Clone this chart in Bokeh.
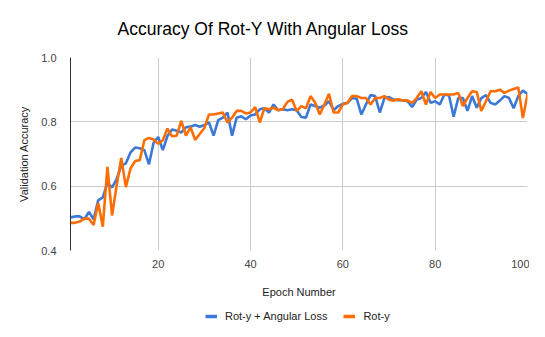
from bokeh.plotting import figure
from bokeh.layouts import column
from bokeh.models import Range1d, FixedTicker, NumeralTickFormatter, Legend, LegendItem, Title
from bokeh.embed import file_html
from bokeh.resources import INLINE

epochs = list(range(1, 101))
angular = [0.503, 0.506, 0.506, 0.497, 0.520, 0.497, 0.556, 0.565, 0.610, 0.596,
           0.622, 0.664, 0.671, 0.705, 0.720, 0.718, 0.712, 0.668, 0.735, 0.753,
           0.712, 0.756, 0.776, 0.772, 0.767, 0.783, 0.785, 0.790, 0.785, 0.790,
           0.798, 0.757, 0.805, 0.813, 0.829, 0.757, 0.813, 0.817, 0.808, 0.820,
           0.823, 0.839, 0.842, 0.829, 0.854, 0.836, 0.839, 0.836, 0.839, 0.836,
           0.815, 0.813, 0.854, 0.849, 0.844, 0.851, 0.864, 0.836, 0.849, 0.856,
           0.859, 0.874, 0.872, 0.823, 0.854, 0.883, 0.880, 0.829, 0.874, 0.877,
           0.869, 0.867, 0.867, 0.864, 0.846, 0.869, 0.874, 0.893, 0.859, 0.864,
           0.854, 0.885, 0.882, 0.816, 0.874, 0.874, 0.834, 0.880, 0.844, 0.874,
           0.883, 0.859, 0.854, 0.866, 0.880, 0.874, 0.842, 0.880, 0.897, 0.887]
roty = [0.486, 0.486, 0.490, 0.499, 0.499, 0.479, 0.548, 0.474, 0.660, 0.509,
        0.602, 0.688, 0.597, 0.655, 0.678, 0.681, 0.743, 0.750, 0.745, 0.732,
        0.743, 0.779, 0.755, 0.757, 0.803, 0.757, 0.783, 0.744, 0.762, 0.781,
        0.823, 0.823, 0.826, 0.829, 0.798, 0.813, 0.834, 0.834, 0.826, 0.829,
        0.846, 0.798, 0.842, 0.839, 0.844, 0.836, 0.840, 0.862, 0.869, 0.834,
        0.849, 0.842, 0.880, 0.859, 0.823, 0.854, 0.887, 0.829, 0.829, 0.854,
        0.859, 0.880, 0.880, 0.874, 0.874, 0.854, 0.874, 0.874, 0.880, 0.869,
        0.866, 0.870, 0.866, 0.867, 0.859, 0.874, 0.895, 0.854, 0.893, 0.874,
        0.885, 0.885, 0.885, 0.885, 0.890, 0.849, 0.874, 0.895, 0.893, 0.834,
        0.864, 0.895, 0.895, 0.900, 0.890, 0.897, 0.902, 0.907, 0.812, 0.885]
x_ticks = [20, 40, 60, 80, 100]
y_ticks = [0.4, 0.6, 0.8, 1.0]
series_names = ["Rot-y + Angular Loss", "Rot-y"]
colors = ["#3c78d8", "#ff6d01"]

FONT = "Liberation Sans"

p = figure(width=529, height=302, output_backend="svg", toolbar_location=None,
           x_range=Range1d(1, 100), y_range=Range1d(0.4, 1.0),
           min_border_left=70, min_border_right=2, min_border_top=56,
           min_border_bottom=52)
p.outline_line_color = None

t = Title(text="Accuracy Of  Rot-Y With Angular Loss", align="left", offset=47,
          text_font=FONT, text_font_size="17.5px", text_font_style="normal",
          text_color="#000000", vertical_align="middle", standoff=35)
p.add_layout(t, "above")

r1 = p.line(epochs, angular, line_color=colors[0], line_width=2.6)
r2 = p.line(epochs, roty, line_color=colors[1], line_width=2.6)

p.xaxis.ticker = FixedTicker(ticks=x_ticks)
p.yaxis.ticker = FixedTicker(ticks=y_ticks)
p.yaxis.formatter = NumeralTickFormatter(format="0.0")
for ax in (p.xaxis[0], p.yaxis[0]):
    ax.major_tick_line_color = None
    ax.minor_tick_line_color = None
    ax.major_tick_out = 0
    ax.major_tick_in = 0
    ax.major_label_text_font = FONT
    ax.major_label_text_font_size = "11px"
    ax.major_label_text_color = "#444444"
    ax.axis_label_text_font = FONT
    ax.axis_label_text_font_size = "11px"
    ax.axis_label_text_font_style = "normal"
    ax.axis_label_text_color = "#222222"
p.xaxis.axis_line_color = None
p.yaxis.axis_line_color = "#333333"
p.yaxis.axis_line_width = 1
p.xaxis.axis_label = "Epoch Number"
p.yaxis.axis_label = "Validation Accuracy"
p.xaxis.major_label_standoff = 9
p.xaxis.axis_label_standoff = 15
p.yaxis.major_label_standoff = 14
p.yaxis.axis_label_standoff = 8

p.xgrid.ticker = FixedTicker(ticks=x_ticks)
p.ygrid.ticker = FixedTicker(ticks=y_ticks)
p.xgrid.grid_line_color = "#cccccc"
p.ygrid.grid_line_color = "#cccccc"

# legend strip below the chart (dummy renderers sit outside the visible range)
lg = figure(width=529, height=28, output_backend="svg", toolbar_location=None,
            x_axis_type=None, y_axis_type=None,
            x_range=Range1d(0, 1), y_range=Range1d(0, 1),
            min_border_left=0, min_border_right=0, min_border_top=0,
            min_border_bottom=0)
lg.outline_line_color = None
lg.xgrid.visible = False
lg.ygrid.visible = False
d1 = lg.line([-10, -9], [-10, -9], line_color=colors[0], line_width=3.5)
d2 = lg.line([-10, -9], [-10, -9], line_color=colors[1], line_width=3.5)
legend = Legend(items=[LegendItem(label=series_names[0], renderers=[d1]),
                       LegendItem(label=series_names[1], renderers=[d2])],
                orientation="horizontal", location=(135, 8),
                glyph_width=12, glyph_height=12, label_height=12,
                label_standoff=8, spacing=16,
                padding=0, margin=0, border_line_color=None,
                background_fill_alpha=0,
                label_text_font=FONT, label_text_font_size="11px",
                label_text_color="#222222")
lg.add_layout(legend, "center")

layout = column(p, lg, spacing=0)
open("out.html", "w").write(file_html(layout, INLINE))
